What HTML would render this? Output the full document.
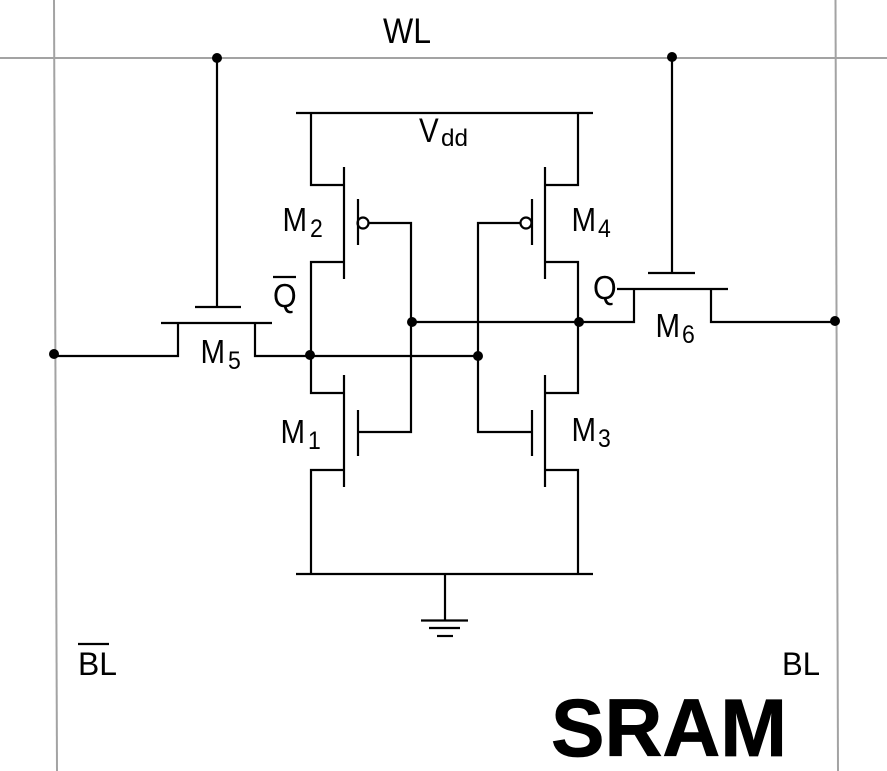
<!DOCTYPE html>
<html>
<head>
<meta charset="utf-8">
<title>SRAM</title>
<style>
html,body{margin:0;padding:0;background:#fff;}
svg{display:block;}
text{font-family:"Liberation Sans",sans-serif;fill:#000;}
.m{font-size:29.5px;}
.s{font-size:23px;}
.t{font-size:30px;}
</style>
</head>
<body>
<svg width="887" height="771" viewBox="0 0 887 771" xmlns="http://www.w3.org/2000/svg">
<rect width="887" height="771" fill="#fff"/>
<g stroke="#a3a3a3" stroke-width="2" fill="none">
<line x1="54" y1="0" x2="57" y2="771"/>
<line x1="835.5" y1="0" x2="838" y2="771"/>
<line x1="0" y1="58" x2="887" y2="58"/>
</g>
<g stroke="#000" stroke-width="2.2" fill="none">
<path d="M296 113H593"/>
<path d="M296 574H593"/>
<path d="M311 113V185H344"/>
<path d="M578 113V185H545"/>
<path d="M344 167V279"/>
<path d="M545 167V279"/>
<path d="M344 262H311V393H344"/>
<path d="M545 262H578V393H545"/>
<path d="M344 375V487"/>
<path d="M545 375V487"/>
<path d="M344 470H311V574"/>
<path d="M545 470H578V574"/>
<path d="M358 199V245"/>
<path d="M532 199V245"/>
<path d="M358 410V456"/>
<path d="M532 410V456"/>
<path d="M369 223H411V432H358"/>
<path d="M521 223H478V432H532"/>
<circle cx="363" cy="223" r="5.5"/>
<circle cx="526" cy="223" r="5.5"/>
<path d="M217 58V307"/>
<path d="M195 307H241"/>
<path d="M161 323H272"/>
<path d="M54 356H178V323"/>
<path d="M255 323V356H478"/>
<path d="M672 57V273"/>
<path d="M648 273H695"/>
<path d="M617 289H728"/>
<path d="M411 322H634V289"/>
<path d="M711 289V322H835"/>
<path d="M445 574V620"/>
<path d="M421 620.5H468"/>
<path d="M429 628H460"/>
<path d="M437 636H453"/>
<path d="M273 277H296"/>
<path d="M78 644H109"/>
</g>
<g fill="#000">
<circle cx="217" cy="58" r="5"/>
<circle cx="672" cy="57" r="5"/>
<circle cx="54" cy="354" r="5"/>
<circle cx="310" cy="355" r="5"/>
<circle cx="478" cy="356" r="5"/>
<circle cx="412" cy="322" r="5"/>
<circle cx="579" cy="322" r="5"/>
<circle cx="835" cy="321" r="5"/>
</g>
<text class="t" transform="translate(383 43) scale(1 1.18)" textLength="48" lengthAdjust="spacingAndGlyphs">WL</text>
<text class="m" transform="translate(419 142) scale(1 1.16)">V</text>
<text class="s" transform="translate(441 146) scale(1 1.06)" textLength="27" lengthAdjust="spacingAndGlyphs">dd</text>
<text class="m" transform="translate(282.5 231) scale(1 1.14)">M</text><text class="s" transform="translate(310 237) scale(1 1.08)">2</text>
<text class="m" transform="translate(571.5 231) scale(1 1.14)">M</text><text class="s" transform="translate(598 237) scale(1 1.08)">4</text>
<text class="m" transform="translate(200.5 363) scale(1 1.14)">M</text><text class="s" transform="translate(228 369) scale(1 1.08)">5</text>
<text class="m" transform="translate(655.5 337) scale(1 1.14)">M</text><text class="s" transform="translate(682 343) scale(1 1.08)">6</text>
<text class="m" transform="translate(280.5 443) scale(1 1.14)">M</text><text class="s" transform="translate(308 449) scale(1 1.08)">1</text>
<text class="m" transform="translate(571.5 441) scale(1 1.14)">M</text><text class="s" transform="translate(598 447) scale(1 1.08)">3</text>
<text class="m" transform="translate(273 307) scale(1.03 1.12)">Q</text>
<text class="m" transform="translate(593 299) scale(1.03 1.12)">Q</text>
<text class="t" transform="translate(78 675) scale(1 1.08)" textLength="39" lengthAdjust="spacingAndGlyphs">BL</text>
<text class="t" transform="translate(782 675) scale(1 1.08)" textLength="38" lengthAdjust="spacingAndGlyphs">BL</text>
<text transform="translate(551 756)" font-size="82" font-weight="700" stroke="#000" stroke-width="0.8" textLength="236" lengthAdjust="spacingAndGlyphs">SRAM</text>
</svg>
</body>
</html>
